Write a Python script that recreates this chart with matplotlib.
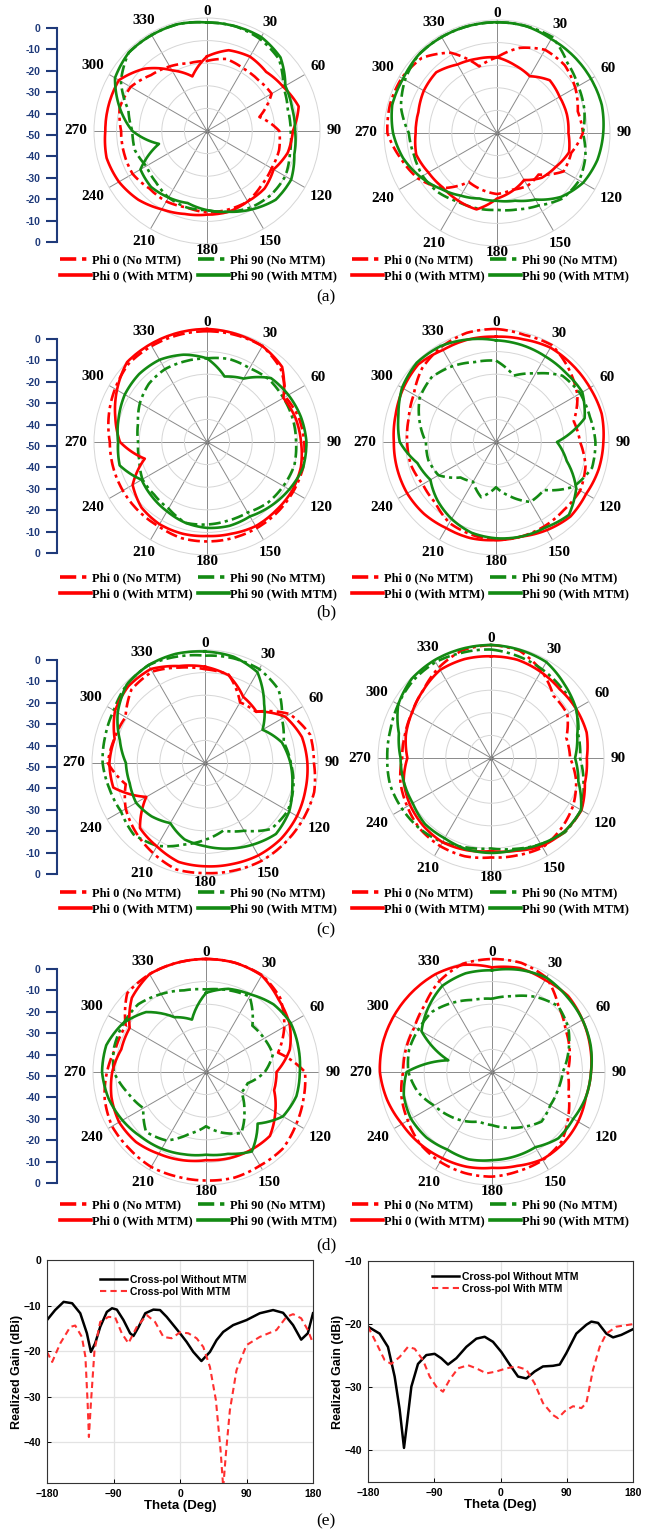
import numpy as np
import matplotlib

matplotlib.use("Agg")
import matplotlib.pyplot as plt
from matplotlib.lines import Line2D

# Radiation patterns, gain in dB, sampled every 15 degrees (0..345)
ANGLES = list(range(0, 360, 15))
THETA_LABELS = [str(a) for a in range(0, 360, 30)]
SCALE_LABELS = ["0", "-10", "-20", "-30", "-40", "-50", "-40", "-30", "-20", "-10", "0"]
LEGEND_LABELS = ["Phi 0 (No MTM)", "Phi 0 (With MTM)", "Phi 90 (No MTM)", "Phi 90 (With MTM)"]

A_L_P0_NO = [-19, -17, -18, -18, -17, -26, -18, -17, -17, -16, -14, -14, -14, -15, -14, -14, -12, -12, -12, -10, -11, -15, -17, -19]
A_L_P0_MTM = [-17, -13, -12, -13, -11, -8, -12, -13, -16, -14, -14, -13, -13, -12, -10, -7, -5, -4, -5, -5, -5, -11, -19, -25]
A_L_P90_NO = [-2, -2, -3, -5, -11, -13, -13, -12, -10, -10, -11, -13, -15, -15, -16, -18, -19, -17, -17, -14, -6, -1, -1, -1]
A_L_P90_MTM = [-2, -2, -2, -4, -10, -11, -11, -10, -7, -7, -10, -13, -15, -17, -16, -15, -16, -28, -17, -10, -3, -1, -1, -1]

A_R_P0_NO = [-16.5, -11, -7.5, -7.6, -10, -13, -12, -16, -16, -24, -23, -24, -23, -24, -25, -15.5, -9.7, -6, -1.5, -1, -1.3, -3, -9, -19.5]
A_R_P0_MTM = [-16.5, -19, -21, -17, -18, -18, -18.4, -17, -20, -22, -26, -23.5, -21, -15, -15.5, -16, -15, -13, -14, -14, -12.6, -12, -15, -16]
A_R_P90_NO = [-1, -1, -1, -6, -8.5, -10, -12, -9.5, -8, -9, -13, -15, -16, -15.5, -15, -13, -12, -12, -11, -6, -3, -1, -1, -1]
A_R_P90_MTM = [-1, -1, -2, -2, -2, -2, -3, -4, -6, -10, -16, -19, -20, -20, -18, -15, -11, -7, -4, -2, -2, -1, -1, -1]

B_L_P0_NO = [-1, -1, -1, -4, -10, -8, -7, -6, -6, -6, -6, -6, -6, -6, -7, -7, -7, -7, -7, -5, -3, -1, -1, -1]
B_L_P0_MTM = [0, -0.5, -1, -3, -11, -9.4, -8.4, -7, -6.6, -7, -7, -8, -8.4, -8, -8, -9, -12, -21.5, -11.5, -8, -4, 0, 0, 0]
B_L_P90_NO = [-13, -12, -12.3, -11, -11, -10.7, -10.6, -10, -11, -12, -14, -14, -13.5, -13, -16, -17, -17, -19, -19.5, -18.4, -15.7, -13.6, -12.8, -13]
B_L_P90_MTM = [-13, -20, -17.6, -10, -8.4, -7, -6, -6, -8, -10, -12, -11.6, -12, -13, -14.6, -15.7, -16.6, -10, -10.7, -9.5, -8, -7.5, -8, -10]

B_R_P0_NO = [0, -1, -0.5, -4.4, -8.4, -14.4, -12.8, -9, -7, -7.5, -7, -6.7, -6.6, -7.6, -8.7, -12, -12.6, -11, -10.7, -10, -8, -3.8, -1.5, 0]
B_R_P0_MTM = [-3.4, -3, -1.8, -2, -2, -1.6, -2.5, -3, -4, -3.4, -5, -6.7, -6.6, -6, -6, -5, -4.6, -4.7, -4.8, -4, -2.6, -1.4, -3, -3]
B_R_P90_NO = [-14, -19.6, -15, -8.5, -7, -7, -6, -6, -10.4, -20, -19.4, -25, -30, -24.7, -29.7, -27.8, -20.6, -19, -19, -15, -11, -9.6, -11.3, -13.4]
B_R_P90_MTM = [-5, -5.6, -6.3, -6.5, -5.9, -9.4, -23, -17.6, -9, -4.4, -6.3, -6.7, -7.4, -8.4, -10.7, -13.4, -16.5, -14, -7.4, -5.3, -2, -0.4, -1, -3]

C_L_P0_NO = [-8.5, -9.5, -19, -18, -6.7, -1.8, -1.8, 0, 0, 0, 0, -0.7, -1.3, -1.2, -4, -6.7, -9.5, -13.7, -7, -8.5, -9.4, -4, -3.3, -6.3]
C_L_P0_MTM = [-7.4, -9.8, -16.2, -17.8, -9, -5.6, -4.7, -4, -3, -2.5, -2.8, -3.7, -4.3, -4.7, -7.4, -9.3, -20, -8, -7.7, -8.6, -4, -2, -2, -5.6]
C_L_P90_NO = [-2.5, -2, -2, -4, -10.7, -14, -12, -9.5, -7.7, -8.7, -15.4, -19, -16, -12.6, -7.7, -5.3, -7.1, -6.2, -4.7, -4.3, -3.4, -1, 0, -1.3]
C_L_P90_MTM = [-0.7, -1.3, -3.6, -13, -20.6, -14.8, -12.2, -10, -7, -5.6, -8.2, -10.8, -13.2, -15, -19.3, -16.6, -14.8, -15.5, -15, -11, -5.4, -1, 0, 0]

C_R_P0_NO = [0, -0.9, -5.4, -11, -11, -15.5, -15, -11, -8, -6, -4.3, -5.4, -6, -5, -5, -5.6, -7.2, -8.5, -10.7, -10.6, -9.7, -7.6, -3.8, -0.7]
C_R_P0_MTM = [-5, -5, -6, -7, -6.5, -6.2, -7.6, -7, -3.8, -4, -5, -7.5, -8.8, -7.8, -7, -7.6, -8.6, -10, -13, -11, -9.7, -7.6, -5, -4.7]
C_R_P90_NO = [-2, -3.4, -4.7, -6, -6.5, -10, -10.6, -7.6, -4, -3.6, -6, -8.4, -10, -9, -7, -5.6, -4.7, -3.8, -4.1, -3.8, -2.6, -1.4, -1, -1.7]
C_R_P90_MTM = [0, -0.5, -1, -4, -6.5, -10.5, -12.8, -10, -4, -4, -6, -8, -8, -8.2, -9, -8.7, -10, -10, -10, -7.8, -2.6, -0.4, 0, 0]

D_L_P0_NO = [0, 0, -0.5, -3.6, -10, -17, -6.2, -5.3, -3.9, -2, -2.2, -1.6, -2, -2, -1.5, -2, -2, -3.6, -6.2, -8.7, -9, -0.7, 0, 0]
D_L_P0_MTM = [0, 0, -0.7, -4.6, -7.3, -11.6, -18.8, -18.8, -14.6, -10, -10.2, -10.5, -11, -9.6, -8.2, -6.2, -5.6, -6.7, -8.5, -11.2, -11, -3.6, 0, 0]
D_L_P90_NO = [-13.5, -12.5, -11.4, -21, -20.3, -19.3, -24, -30.9, -31.9, -26, -18.8, -22.2, -26, -21.7, -15, -12.5, -18, -14.2, -9.2, -7.9, -7.6, -7.6, -10.2, -12.6]
D_L_P90_MTM = [-15, -11.9, -10.4, -7.7, -6.7, -7.7, -8.5, -8.6, -10.7, -17.7, -9.4, -12.5, -13.4, -12.3, -10.8, -9.4, -7.3, -5.3, -4, -4.3, -7.3, -12.5, -22, -26]

D_R_P0_NO = [0, 0, -1.8, -8.5, -12.4, -14.4, -16.5, -15, -11, -6.5, -5, -4.6, -3.7, -3.7, -4.1, -5, -7, -8.5, -10.7, -10.6, -10.4, -8, -3.5, -0.4]
D_R_P0_MTM = [-3.7, -2.4, -3, -2.4, -3.8, -5.1, -6.2, -7, -6, -5.4, -5.4, -7, -7.6, -6.6, -6, -5, -4, -2, -0.4, 0, 0, 0, 0, -0.9]
D_R_P90_NO = [-17.6, -15.3, -11.6, -8.7, -11, -15, -18.7, -19.8, -20.3, -19, -22, -24.5, -26.5, -27.3, -25, -22.8, -20.4, -16, -13, -12, -12.4, -12.4, -14.7, -17]
D_R_P90_MTM = [-5, -3.2, -1.8, -3, -3.8, -4.8, -6.2, -7, -8.5, -8.5, -11.6, -11.3, -11, -10, -10.4, -9, -8.6, -9.6, -12.2, -30, -14, -10, -6, -4.8]

# Cross-pol cuts, realized gain (dBi) versus theta (deg)
E_L_TH_WO = [-180, -169, -157.5, -146, -135, -126, -120.6, -114.8, -108, -99, -92, -85.5, -76.5, -67.5, -63, -56, -47, -36, -27, -18, -9, 0, 9, 18, 29, 40.5, 49.5, 58.5, 72, 90, 108, 126, 139.5, 153, 164, 173, 180]
E_L_WO = [-13.2, -11, -9.2, -9.5, -11.7, -16.1, -20.2, -18.3, -14.7, -11.4, -10.6, -10.9, -13.2, -16.1, -16.7, -14.7, -11.7, -10.9, -11, -12.5, -14.3, -16.1, -18, -20.2, -22.2, -20.2, -17.6, -15.8, -14.3, -13.2, -11.7, -11, -11.6, -14.3, -17.5, -16.1, -11.7]
E_L_TH_W = [-180, -173, -162, -148.5, -141.8, -132.8, -128, -125, -123.3, -120.6, -115.7, -108, -96.8, -87.8, -78.8, -69.8, -58.5, -45, -33.8, -22.5, -11.3, 0, 11.3, 22.5, 31.5, 40.5, 48.6, 54.9, 58.5, 62.1, 67.5, 76.5, 90, 108, 130.5, 144, 153, 164, 173, 180]
E_L_W = [-20.2, -22.4, -18.3, -14.7, -14.4, -16.9, -21.3, -31.5, -38.9, -31.5, -19.8, -13.6, -12.5, -12.6, -16.1, -18.3, -14.7, -12.1, -13.6, -16.9, -17.2, -15.9, -16.1, -17.2, -19.1, -23.5, -30.8, -41.8, -50, -42.6, -33, -24.2, -18.7, -16.9, -15.4, -12.5, -11.9, -12.8, -15.4, -18.3]

E_R_TH_WO = [-180, -164.2, -152.9, -143.8, -137, -131.1, -127, -121.1, -112.1, -100.8, -89.5, -80.5, -71.3, -60, -46.4, -32.8, -21.5, -10.2, 1.1, 12.5, 23.8, 35.1, 46.4, 57.7, 71.3, 80.4, 89.4, 103, 116.6, 123.4, 132.5, 143.8, 152.9, 164.2, 180]
E_R_WO = [-20.4, -21.5, -23.6, -28.3, -33.5, -39.6, -35.7, -29.9, -26.3, -24.9, -24.7, -25.4, -26.4, -25.4, -23.6, -22.3, -22, -22.8, -24.4, -26.4, -28.3, -28.6, -27.5, -26.7, -26.6, -26.4, -24.6, -21.5, -20.1, -19.6, -19.8, -21.5, -22.1, -21.7, -20.8]
E_R_TH_W = [-180, -168.7, -157.4, -148.3, -137, -125.7, -116.6, -105.3, -96.2, -87.2, -78.1, -69.1, -57.7, -44.2, -32.8, -19.2, -5.7, 7.9, 21.5, 35.1, 46.4, 57.7, 71.3, 78.1, 87.2, 98.5, 109.9, 116.6, 125.7, 134.7, 143.8, 157.4, 168.7, 180]
E_R_W = [-20.4, -23, -25.7, -26.3, -25.2, -23.6, -23.9, -25.7, -28.3, -29.9, -30.7, -28.8, -27, -26.5, -27, -27.8, -27.5, -27, -26.7, -27.2, -29.4, -32.5, -34.4, -34.9, -33.8, -33, -33.3, -32.5, -27.2, -23.6, -21.5, -20.4, -20.2, -20]

RED = "#ff0000"
GREEN = "#138a13"
NAVY = "#1f3a7a"
SERIF = "Liberation Serif"
SANS = "Liberation Sans"
DASHDOT = (0, (4.5, 1.6, 1.2, 1.6))
RADIUS = 113

W, H = 652, 1537
fig = plt.figure(figsize=(W / 100, H / 100), dpi=100)


def px_box(x0, y0, w, h):
    return [x0 / W, 1 - (y0 + h) / H, w / W, h / H]


def closed(vals):
    th = np.deg2rad(ANGLES + [360])
    return th, list(vals) + [vals[0]]


def pattern(cx, cy, p0_no, p0_mtm, p90_no, p90_mtm):
    ax = fig.add_axes(px_box(cx - RADIUS, cy - RADIUS, 2 * RADIUS, 2 * RADIUS), projection="polar")
    ax.set_theta_zero_location("N")
    ax.set_theta_direction(-1)
    ax.set_ylim(-50, 0)
    ax.set_yticks([-40, -30, -20, -10])
    ax.set_yticklabels([])
    ax.set_xticks(np.deg2rad(range(0, 360, 30)))
    ax.set_xticklabels([])
    ax.xaxis.grid(True, color="#8a8a8a", lw=0.7)
    ax.yaxis.grid(True, color="#d6d6d6", lw=0.7)
    ax.spines["polar"].set_color("#d6d6d6")
    ax.spines["polar"].set_linewidth(0.7)
    ax.plot(0, -50, "o", ms=2.2, color="#333333", zorder=1)

    # angle labels hug the outer ring, like a spreadsheet radar chart
    for deg, lab in zip(range(0, 360, 30), THETA_LABELS):
        s, c = np.sin(np.deg2rad(deg)), np.cos(np.deg2rad(deg))
        off = 2 + 5 * abs(s) + abs(s) * 3.8 * len(lab) + abs(c) * 4.5
        ax.annotate(lab, xy=(np.deg2rad(deg), 0), xycoords="data",
                    xytext=(s * off * 0.72, c * off * 0.72), textcoords="offset points",
                    ha="center", va="center", fontfamily=SERIF, fontweight="bold",
                    fontsize=11, annotation_clip=False)

    for vals, color, ls in [(p0_no, RED, DASHDOT), (p90_no, GREEN, DASHDOT),
                            (p0_mtm, RED, "-"), (p90_mtm, GREEN, "-")]:
        th, r = closed(vals)
        ln, = ax.plot(th, r, color=color, ls=ls, lw=1.9, clip_on=False, zorder=3)
        # draw each segment as an arc in polar space instead of a chord
        ln.get_path()._interpolation_steps = 12
    return ax


def db_scale(cy):
    ax = fig.add_axes(px_box(57, cy + 4 - 107, 1, 214))
    ax.set_ylim(10, 0)
    ax.set_yticks(range(11))
    ax.set_yticklabels(SCALE_LABELS, fontfamily=SANS, fontweight="bold", fontsize=7.5, color=NAVY)
    ax.set_xticks([])
    ax.patch.set_alpha(0)
    for side in ["top", "right", "bottom"]:
        ax.spines[side].set_visible(False)
    ax.spines["left"].set_color(NAVY)
    ax.spines["left"].set_linewidth(1.5)
    ax.tick_params(axis="y", length=8, width=1.5, color=NAVY, pad=4)


def pattern_legend(x, y):
    handles = [
        Line2D([], [], color=RED, ls=DASHDOT, lw=2.6),
        Line2D([], [], color=RED, ls="-", lw=2.6),
        Line2D([], [], color=GREEN, ls=DASHDOT, lw=2.6),
        Line2D([], [], color=GREEN, ls="-", lw=2.6),
    ]
    fig.legend(handles, LEGEND_LABELS, loc="upper left", bbox_to_anchor=(x / W, 1 - y / H),
               ncol=2, frameon=False, prop={"family": SERIF, "weight": "bold", "size": 9},
               handlelength=2.5, handletextpad=0.05, columnspacing=0.45, labelspacing=0.38,
               borderaxespad=0, borderpad=0)


rows = [
    ((207, 131), (497, 133), 254, "(a)", 297,
     (A_L_P0_NO, A_L_P0_MTM, A_L_P90_NO, A_L_P90_MTM), (A_R_P0_NO, A_R_P0_MTM, A_R_P90_NO, A_R_P90_MTM)),
    ((207, 442), (496, 442), 572, "(b)", 612,
     (B_L_P0_NO, B_L_P0_MTM, B_L_P90_NO, B_L_P90_MTM), (B_R_P0_NO, B_R_P0_MTM, B_R_P90_NO, B_R_P90_MTM)),
    ((205, 763), (491, 758), 887, "(c)", 930,
     (C_L_P0_NO, C_L_P0_MTM, C_L_P90_NO, C_L_P90_MTM), (C_R_P0_NO, C_R_P0_MTM, C_R_P90_NO, C_R_P90_MTM)),
    ((206, 1072), (492, 1072), 1199, "(d)", 1245,
     (D_L_P0_NO, D_L_P0_MTM, D_L_P90_NO, D_L_P90_MTM), (D_R_P0_NO, D_R_P0_MTM, D_R_P90_NO, D_R_P90_MTM)),
]

for (lc, rc, leg_y, tag, tag_y, left_data, right_data) in rows:
    pattern(*lc, *left_data)
    pattern(*rc, *right_data)
    db_scale(lc[1])
    pattern_legend(60, leg_y)
    pattern_legend(352, leg_y)
    fig.text(326 / W, 1 - tag_y / H, tag, ha="center", va="center", fontfamily=SERIF, fontsize=12.5)


def cut(box, th_wo, wo, th_w, w, ylim, yticks, leg_xy):
    ax = fig.add_axes(px_box(*box))
    ax.plot(th_wo, wo, color="black", lw=1.8, label="Cross-pol Without MTM")
    ax.plot(th_w, w, color="#ff3030", lw=1.5, ls=(0, (3, 2)), label="Cross-pol With MTM")
    ax.set_xlim(-180, 180)
    ax.set_ylim(*ylim)
    ax.set_xticks([-180, -90, 0, 90, 180])
    ax.set_yticks(yticks)
    ax.grid(True, color="#e3e3e3", lw=0.9)
    ax.set_axisbelow(True)
    for s in ax.spines.values():
        s.set_color("#333333")
        s.set_linewidth(0.8)
    ax.tick_params(direction="in", length=3, width=0.7, labelsize=7.5, pad=4)
    for lab in ax.get_xticklabels() + ax.get_yticklabels():
        lab.set_fontfamily(SANS)
        lab.set_fontweight("bold")
    ax.set_xlabel("Theta (Deg)", fontfamily=SANS, fontweight="bold", fontsize=9.5, labelpad=1)
    ax.set_ylabel("Realized Gain (dBi)", fontfamily=SANS, fontweight="bold", fontsize=9, labelpad=0.5)
    ax.legend(loc="upper left", bbox_to_anchor=leg_xy, bbox_transform=fig.transFigure, frameon=False,
              prop={"family": SANS, "weight": "bold", "size": 7.5}, handlelength=2.6,
              handletextpad=0.3, labelspacing=0.15, borderaxespad=0, borderpad=0)


cut((47, 1260, 266, 223), E_L_TH_WO, E_L_WO, E_L_TH_W, E_L_W, (-49, 0), [0, -10, -20, -30, -40],
    (100 / W, 1 - 1275 / H))
cut((368, 1261, 265, 221), E_R_TH_WO, E_R_WO, E_R_TH_W, E_R_W, (-45, -10), [-10, -20, -30, -40],
    (432 / W, 1 - 1272 / H))
fig.text(326 / W, 1 - 1521 / H, "(e)", ha="center", va="center", fontfamily=SERIF, fontsize=12.5)

fig.savefig("out.png", dpi=100, facecolor="white")
